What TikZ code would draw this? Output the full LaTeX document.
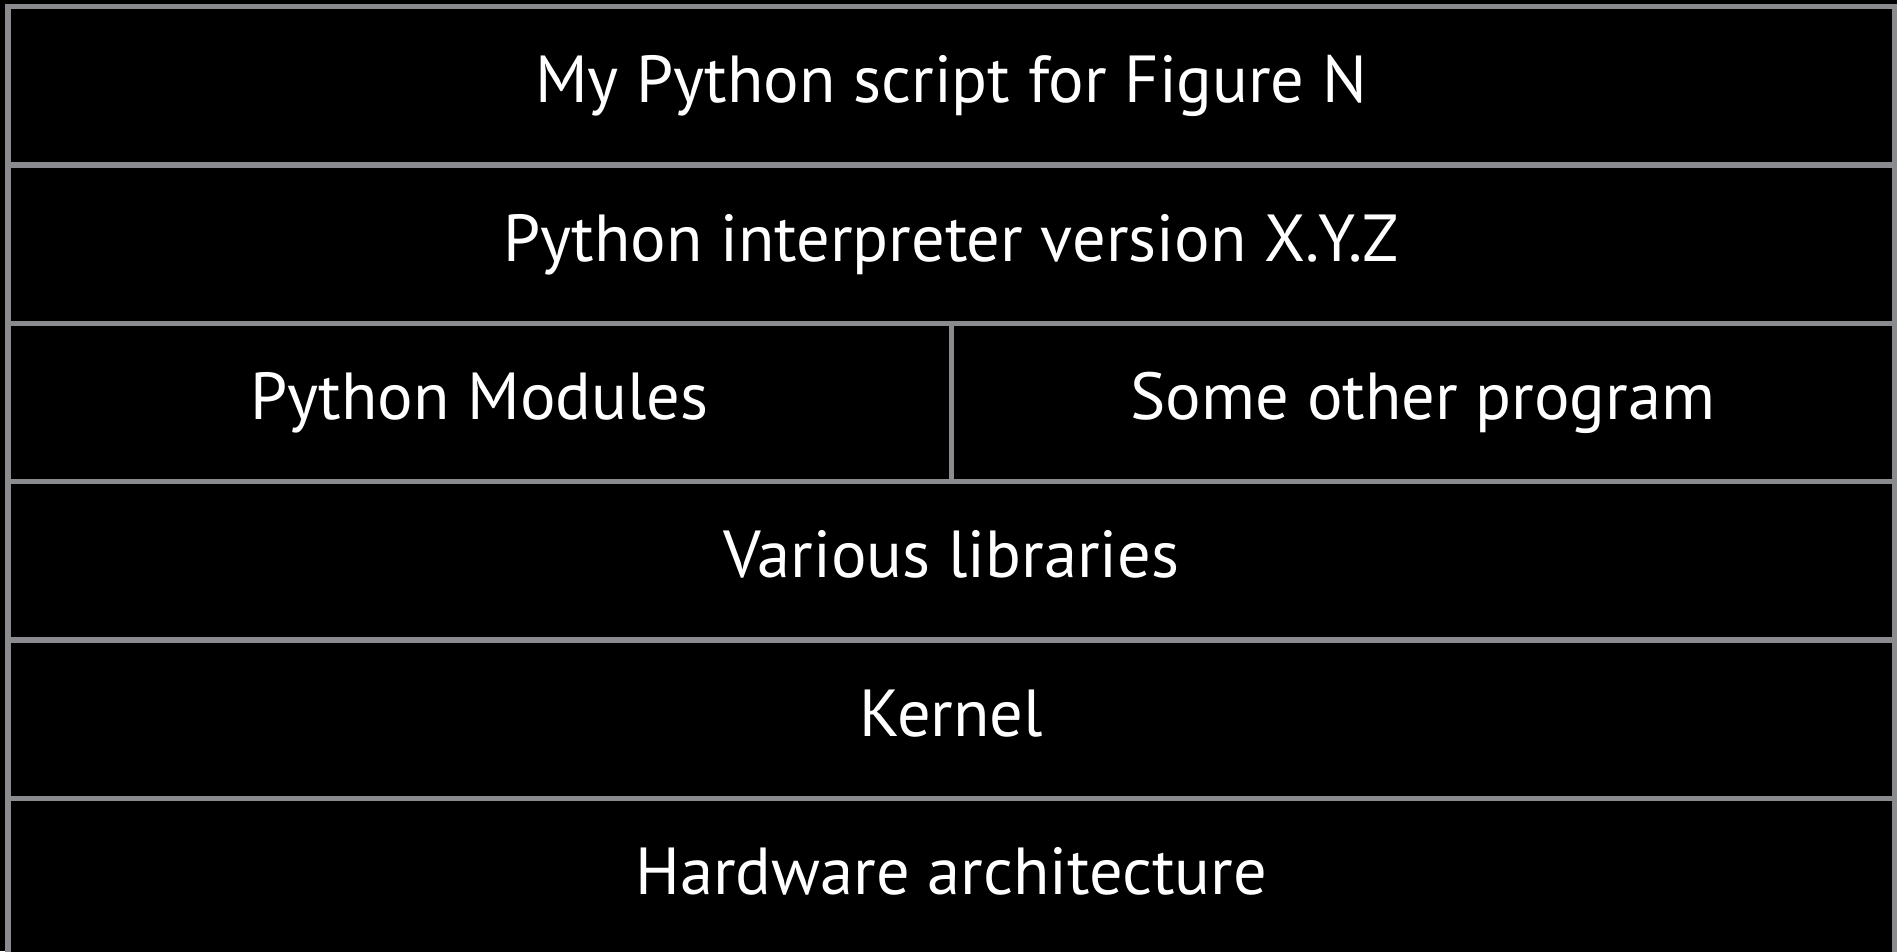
\documentclass[tikz,border=0pt]{standalone}
\usepackage{fontspec}
\setmainfont{PT Sans}
\usetikzlibrary{positioning}

\definecolor{linegray}{HTML}{898B8F}

\tikzset{
  layer/.style={draw=linegray, line width=5.5pt, fill=black, text=white,
    outer sep=0pt, inner sep=0pt, minimum height=158.4pt,
    text height=48pt, text depth=14pt,
    font=\fontsize{66.5}{78}\selectfont},
  full/.style={layer, minimum width=1886.5pt},
  half/.style={layer, minimum width=943.25pt}
}

\begin{document}
\begin{tikzpicture}[x=1pt,y=-1pt]
\clip (0,0) rectangle (1897,951);
\fill[black] (0,0) rectangle (1897,951);
\node[full, anchor=north west] (script) at (8,6.5) {My Python script for Figure N};
\node[full, below=0pt of script] (interp) {Python interpreter version X.Y.Z};
\node[half, below=0pt of interp.south west, anchor=north west] (modules) {Python Modules};
\node[half, right=0pt of modules] (other) {Some other program};
\node[full, below=0pt of modules.south west, anchor=north west] (libs) {Various libraries};
\node[full, below=0pt of libs] (kernel) {Kernel};
\node[full, below=0pt of kernel] (hw) {Hardware architecture};
\end{tikzpicture}
\end{document}
